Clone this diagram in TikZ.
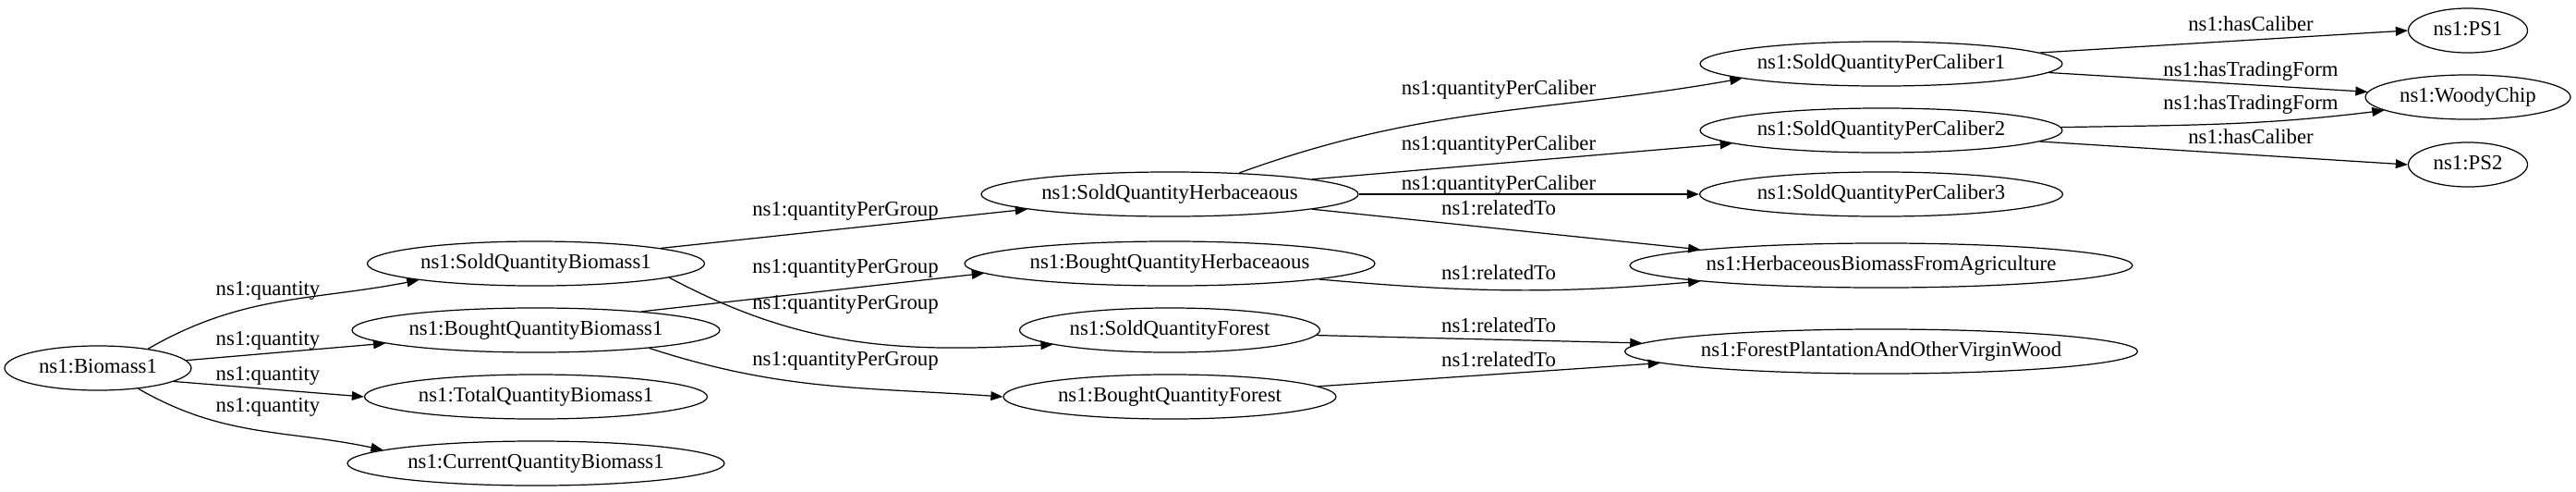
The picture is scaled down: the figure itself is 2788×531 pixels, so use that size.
\documentclass[tikz,border=0pt]{standalone}
\usepackage{fontspec}
\setmainfont{Liberation Serif}
\usetikzlibrary{arrows.meta, shapes.geometric}

\begin{document}
\begin{tikzpicture}
	[%
	x=0.614pt, y=-0.614pt,%
	res/.style ={ellipse,	draw=black,	line width=0.75pt,	inner xsep=-6pt,	inner ysep=0pt,	minimum height=29.5pt,	font=\fontsize{14}{16}\selectfont,	text height=9.5pt,	text depth=3pt},%
	prop/.style={inner sep=0pt,	font=\fontsize{14}{16}\selectfont,	text height=9.5pt,	text depth=3pt},%
	link/.style={line width=0.75pt,	-{Triangle[length=8pt,width=6pt]}},%
	]

	\useasboundingbox (0,0) rectangle (2788,531);

	% nodes
	\foreach \n/\x/\y/\w/\t in {	bio/106/398/202/Biomass1, %
												sqb/580/285/365/SoldQuantityBiomass1, bqb/580/357/398/BoughtQuantityBiomass1, %
												tqb/580/429/371/TotalQuantityBiomass1, cqb/580/501/408/CurrentQuantityBiomass1, %
												sqh/1266/210/408/SoldQuantityHerbaceaous, bqh/1266/285/444/BoughtQuantityHerbaceaous, %
												sqf/1266/357/325/SoldQuantityForest, bqf/1266/429/360/BoughtQuantityForest, %
												pc1/2036/69/392/SoldQuantityPerCaliber1, pc2/2036/141/392/SoldQuantityPerCaliber2, %
												pc3/2036/210/393/SoldQuantityPerCaliber3, hbfa/2036/287/544/HerbaceousBiomassFromAgriculture, %
												fpw/2036/380/555/ForestPlantationAndOtherVirginWood, %
												ps1/2671/33/129/PS1, wood/2671/105/222/WoodyChip, ps2/2671/178/129/PS2%
												}
			\node (\n) at (\x,\y) [res, minimum width=\w*0.614pt] {ns1:\t};

	% edge labels
	\foreach \n/\x/\y/\t in {	q1/290/314/quantity, q2/290/368/quantity, q3/290/406/quantity, q4/290/440/quantity, %
												g1/915/228/quantityPerGroup, g2/915/290/quantityPerGroup, %
												g3/915/329/quantityPerGroup, g4/915/390/quantityPerGroup, %
												c1/1622/97/quantityPerCaliber, c2/1622/157/quantityPerCaliber, c3/1622/200/quantityPerCaliber, %
												r1/1622/227/relatedTo, r2/1622/297/relatedTo, r3/1622/354/relatedTo, r4/1622/391/relatedTo, %
												h1/2436/28/hasCaliber, t1/2436/77/hasTradingForm, t2/2436/113/hasTradingForm, h2/2436/150/hasCaliber%
												}
			\node (\n) at (\x,\y) [prop] {ns1:\t};

	% interconnections
	% straight ones
	\foreach \a/\i/\b/\o in {	bio/5/bqb/185, bio/350/tqb/180, sqb/7/sqh/186, bqb/10/bqh/183, %
												sqh/6/pc2/185, sqh/0/pc3/180, sqh/354/hbfa/175, sqf/358/fpw/178, bqf/4/fpw/183, %
												pc1/4/ps1/180, pc1/357/wood/177, pc2/356/ps2/180%
												}
		\draw [link] (\a.\i) -- (\b.\o);

	% bent ones
	\foreach \a/\i/\b/\o/\s/\e in {	bio/21/sqb/188/30/191, bio/333/cqb/175/330/168, %
												sqb/354/sqf/187/332/183, bqb/351/bqf/180/342/176, %
												sqh/17/pc1/186/20/190, bqh/354/hbfa/185/355/185, pc2/1/wood/189/1/187%
												}
		\draw [link] (\a.\i) to [out=\s,in=\e] (\b.\o);

\end{tikzpicture}
\end{document}
